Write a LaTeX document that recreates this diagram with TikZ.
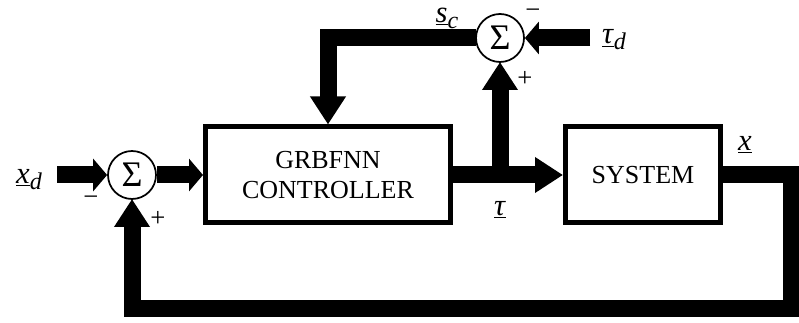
\documentclass[tikz,border=0pt]{standalone}
\usepackage{fontspec}
\setmainfont{Liberation Serif}
\usetikzlibrary{arrows.meta}
\newcommand{\siglbl}[2]{\underline{\textit{#1}}\raisebox{-0.2em}{\fontsize{18}{18}\selectfont\textit{#2}}}
\tikzset{
  blockbox/.style = {draw,line width=3.75pt,align=center,inner sep=0pt,
                     font=\fontsize{19.5}{23}\selectfont},
  sumnode/.style  = {draw,circle,fill=white,line width=1.3pt,minimum size=36pt,
                     inner sep=0pt,font=\fontsize{27}{27}\selectfont},
  sigarr/.style   = {-{Triangle[length=21pt,width=25.5pt]},line width=12.75pt},
  sigshort/.style = {-{Triangle[length=10.5pt,width=24pt]},line width=12.75pt},
  lbl/.style      = {font=\fontsize{23}{24}\selectfont,inner sep=0pt},
  sgn/.style      = {font=\fontsize{20}{20}\selectfont,inner sep=0pt}
}
\begin{document}
\begin{tikzpicture}[x=0.75pt,y=-0.75pt]
  \useasboundingbox (0,0) rectangle (799,323);
  % blocks
  \node[blockbox,minimum width=183.75pt,minimum height=72pt] (ctrl) at (328,175)
        {GRBFNN\\CONTROLLER};
  \node[blockbox,minimum width=116.25pt,minimum height=72pt] (sys) at (643,175)
        {SYSTEM};
  \coordinate (xdin)   at (57,175);
  \coordinate (taudin) at (590,38);
  \coordinate (scL)    at (328,38);
  \coordinate (fbR)    at (791,309);
  % signals
  \draw[sigarr] (ctrl) -- (sys);
  \draw[sigarr] (ctrl.east -| 500,0) -- (500,62);
  \draw[sigarr] (476,38) -- (scL) -- (ctrl.north);
  \draw[sigarr] (sys.east) -| (fbR) -| (132,199);
  \node[sumnode] (sumL) at (132,175) {Σ};
  \node[sumnode] (sumT) at (500,38) {Σ};
  \draw[sigshort] (xdin) -- (sumL);
  \draw[sigshort] (sumL) -- (ctrl);
  \draw[sigshort] (taudin) -- (sumT);
  % labels
  \node[lbl] (lxd)  at (29,180)  {\siglbl{x}{d}};
  \node[sgn] (lmL)  at (91,201)  {−};
  \node[sgn] (lpL)  at (158,219) {+};
  \node[lbl] (lsc)  at (447,18)  {\siglbl{s}{c}};
  \node[sgn] (lmT)  at (533,14)  {−};
  \node[sgn] (lpT)  at (525,79)  {+};
  \node[lbl] (ltd)  at (614,40)  {\siglbl{τ}{d}};
  \node[lbl] (ltau) at (500,210) {\underline{\textit{τ}}};
  \node[lbl] (lx)   at (745,145) {\underline{\textit{x}}};
\end{tikzpicture}
\end{document}
